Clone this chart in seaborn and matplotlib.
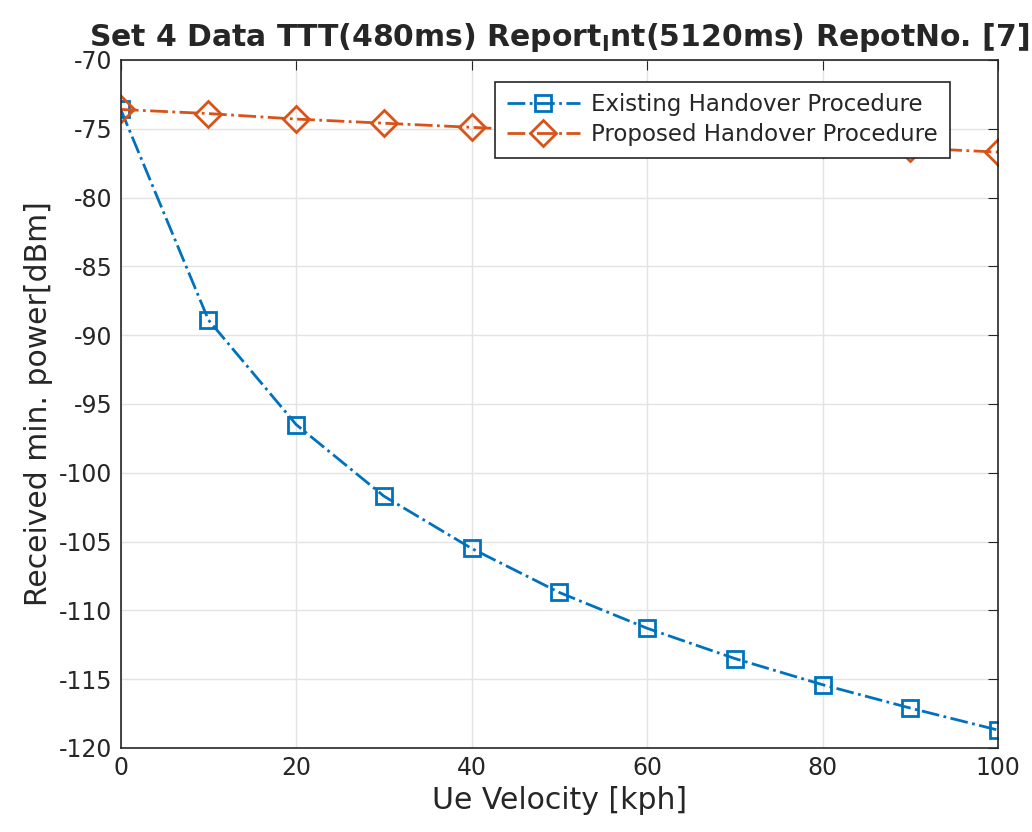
import pandas as pd
import matplotlib.pyplot as plt
import seaborn as sns

# values
velocity = [0, 10, 20, 30, 40, 50, 60, 70, 80, 90, 100]
existing = [-73.6, -88.9, -96.5, -101.7, -105.5, -108.7, -111.3, -113.5, -115.4, -117.1, -118.7]
proposed = [-73.6, -73.9, -74.3, -74.6, -74.9, -75.2, -75.5, -75.8, -76.1, -76.4, -76.7]
labels = ['Existing Handover Procedure', 'Proposed Handover Procedure']

sns.set_style('white')
plt.rcParams['font.family'] = ['DejaVu Sans']
plt.rcParams['axes.unicode_minus'] = False

fig = plt.figure(figsize=(10.32, 8.32), dpi=100)
ax = fig.add_axes([0.117, 0.101, 0.850, 0.827])

blue = '#0072BD'
orange = '#D95319'

sns.lineplot(x=velocity, y=existing, ax=ax, color=blue, linestyle='-.', lw=2,
             marker='s', markersize=12, markerfacecolor='none', markeredgecolor=blue,
             markeredgewidth=2, label=labels[0])
sns.lineplot(x=velocity, y=proposed, ax=ax, color=orange, linestyle='-.', lw=2,
             marker='D', markersize=13, markerfacecolor='none', markeredgecolor=orange,
             markeredgewidth=2, label=labels[1])

ax.set_xlim(0, 100)
ax.set_ylim(-120, -70)
ax.set_xticks(range(0, 101, 20))
ax.set_yticks(range(-120, -69, 5))
ax.grid(True, color='#e3e3e3', lw=1)
ax.tick_params(direction='in', length=7, labelsize=17, colors='#262626',
               top=True, right=True, pad=6)
for s in ax.spines.values():
    s.set_color('#262626')
    s.set_linewidth(1.2)

ax.set_xlabel('Ue Velocity [kph]', fontsize=21.5, color='#262626', labelpad=4)
ax.set_ylabel('Received min. power[dBm]', fontsize=21.5, color='#262626', labelpad=4)
ax.set_title(r'Set 4 Data TTT(480ms) Report$_\mathregular{I}$nt(5120ms) RepotNo. [7]',
             fontsize=21.5, fontweight='bold', pad=10)

leg = ax.legend(loc='upper right', bbox_to_anchor=(0.945, 0.968), borderaxespad=0,
                fontsize=16.5, frameon=True, fancybox=False, framealpha=1,
                edgecolor='#262626', handlelength=3.2, borderpad=0.5,
                labelspacing=0.3, handletextpad=0.5)
leg.get_frame().set_linewidth(1.2)
leg.set_zorder(10)

plt.savefig('out.png', dpi=100)
